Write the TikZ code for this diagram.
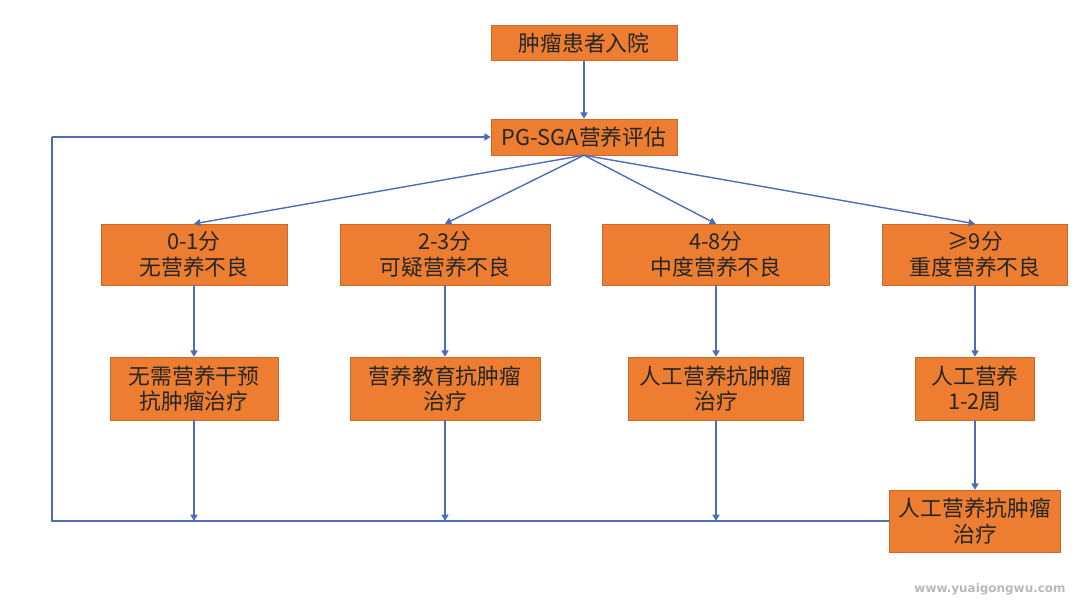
\documentclass[tikz,border=0pt]{standalone}
\usepackage{fontspec}
\setmainfont{Noto Sans CJK SC}
\newfontfamily\markfont{DejaVu Sans}
\usetikzlibrary{arrows.meta}
\definecolor{corange}{RGB}{237,125,49}
\definecolor{cline}{RGB}{76,110,182}
\tikzset{
  flow/.style={x=0.025cm,y=-0.025cm,font=\fontsize{15.5}{18}\selectfont},
  stepbox/.style={fill=corange,draw=corange!85!black,line width=0.3pt,align=center,
    inner sep=0pt,text=black!85},
  link/.style={cline,line width=1pt,-{Triangle[width=5pt,length=4.5pt]}},
  wire/.style={cline,line width=1pt}
}

\begin{document}
\begin{tikzpicture}[flow]
    \useasboundingbox (0,0) rectangle (1080,601);
    % top
    \node[stepbox,minimum width=186*0.025cm,minimum height=35*0.025cm] (start) at (584,43) {肿瘤患者入院};
    \node[stepbox,minimum width=186*0.025cm,minimum height=36*0.025cm] (pgsga) at (584,137) {PG-SGA营养评估};
    % scores
    \node[stepbox,minimum width=186*0.025cm,minimum height=61*0.025cm] (s1) at (194,254.5) {0-1分\\无营养不良};
    \node[stepbox,minimum width=210*0.025cm,minimum height=61*0.025cm] (s2) at (445,254.5) {2-3分\\可疑营养不良};
    \node[stepbox,minimum width=227*0.025cm,minimum height=61*0.025cm] (s3) at (716,254.5) {4-8分\\中度营养不良};
    \node[stepbox,minimum width=185*0.025cm,minimum height=61*0.025cm] (s4) at (975,254.5) {≥9分\\重度营养不良};
    % treatment
    \node[stepbox,minimum width=168*0.025cm,minimum height=63*0.025cm] (t1) at (194,388.5) {无需营养干预\\抗肿瘤治疗};
    \node[stepbox,minimum width=190*0.025cm,minimum height=63*0.025cm] (t2) at (445,388.5) {营养教育抗肿瘤\\治疗};
    \node[stepbox,minimum width=175*0.025cm,minimum height=63*0.025cm] (t3) at (716,388.5) {人工营养抗肿瘤\\治疗};
    \node[stepbox,minimum width=119*0.025cm,minimum height=63*0.025cm] (t4) at (975,388.5) {人工营养\\1-2周};
    \node[stepbox,minimum width=171*0.025cm,minimum height=62*0.025cm] (final) at (975,521) {人工营养抗肿瘤\\治疗};
    % loop back
    \coordinate (loopL) at (52,521);
    \coordinate (loopT) at (52,137);
    \foreach \i in {1,2,3} \coordinate (b\i) at (t\i |- final.west);
    \draw[link] (start) -- (pgsga);
    \foreach \i in {1,...,4} {
      \draw[link] (pgsga.south) -- (s\i.north);
      \draw[link] (s\i) -- (t\i);
    }
    \draw[link] (t4) -- (final);
    \foreach \i in {1,2,3} \draw[link] (t\i) -- (b\i);
    \draw[wire] (final.west) -- (loopL) -- (loopT);
    \draw[link] (loopT) -- (pgsga.west);
    % watermark
    \node[gray!55,font=\markfont\bfseries\fontsize{8.5}{10}\selectfont] (mark) at (990,589) {www.yuaigongwu.com};
\end{tikzpicture}
\end{document}
